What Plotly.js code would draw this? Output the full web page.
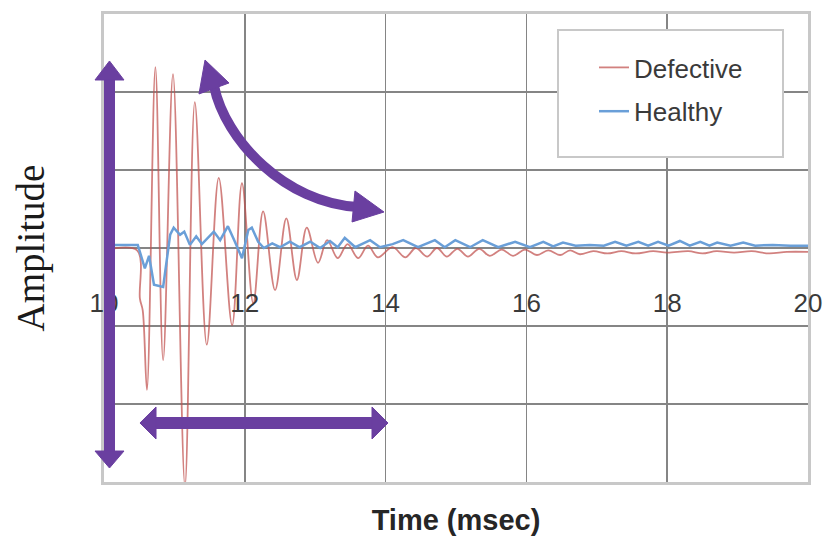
<!DOCTYPE html>
<html>
<head>
<meta charset="utf-8">
<script src="https://cdn.plot.ly/plotly-3.0.1.min.js"></script>
<style>html,body{margin:0;padding:0;background:#fff;}#chart{width:825px;height:537px;}</style>
</head>
<body>
<div id="chart"></div>
<script>
// ---- data ----
var seriesNames = ["Defective", "Healthy"];
var tickVals = [10, 12, 14, 16, 18, 20];
var tickText = ["10", "12", "14", "16", "18", "20"];

var defectiveTime = [10.00, 10.47, 10.51, 10.55, 10.61, 10.73, 10.84, 10.98, 11.15, 11.29, 11.46, 11.63, 11.82, 11.96,
  12.12, 12.26, 12.43, 12.59, 12.74, 12.88, 13.04, 13.17, 13.32, 13.46, 13.61, 13.75, 13.89, 14.10, 14.28, 14.43,
  14.59, 14.73, 14.87, 15.02, 15.17, 15.33, 15.48, 15.65, 15.81, 15.98, 16.15, 16.31, 16.48, 16.62, 16.76, 16.95,
  17.15, 17.35, 17.55, 17.80, 18.00, 18.30, 18.50, 18.70, 18.95, 19.20, 19.45, 19.70, 20.00];
var defectiveAmp = [-0.03, -0.03, -0.65, -0.80, -1.82, 2.32, -1.44, 2.23, -3.05, 1.87, -1.24, 0.90, -0.99, 0.83,
  -0.71, 0.47, -0.54, 0.38, -0.41, 0.26, -0.19, 0.10, -0.13, 0.05, -0.13, 0.03, -0.12, 0.01, -0.12, 0.00,
  -0.11, 0.00, -0.11, -0.01, -0.11, -0.01, -0.10, -0.02, -0.10, -0.02, -0.09, -0.03, -0.09, -0.03, -0.08, -0.04,
  -0.07, -0.04, -0.07, -0.04, -0.06, -0.04, -0.07, -0.04, -0.06, -0.04, -0.07, -0.05, -0.05];

var healthyTime = [10.00, 10.48, 10.58, 10.64, 10.71, 10.84, 10.94, 10.99, 11.08, 11.14, 11.22, 11.31, 11.39, 11.48,
  11.56, 11.65, 11.76, 11.85, 11.96, 12.05, 12.10, 12.19, 12.27, 12.39, 12.50, 12.64, 12.78, 12.93, 13.07, 13.21,
  13.32, 13.42, 13.57, 13.78, 13.92, 14.10, 14.25, 14.46, 14.70, 14.84, 14.99, 15.20, 15.38, 15.60, 15.84, 16.05,
  16.24, 16.38, 16.52, 16.70, 16.90, 17.10, 17.26, 17.42, 17.59, 17.73, 17.87, 18.02, 18.18, 18.32, 18.47, 18.60,
  18.71, 18.90, 19.08, 19.25, 19.50, 19.75, 20.00];
var healthyAmp = [0.04, 0.04, -0.26, -0.10, -0.47, -0.50, 0.17, 0.26, 0.17, 0.21, 0.04, 0.15, 0.05, 0.13,
  0.21, 0.10, 0.28, 0.10, -0.13, 0.23, 0.26, 0.08, 0.00, 0.06, 0.01, 0.08, 0.01, 0.08, 0.00, 0.09,
  0.01, 0.13, 0.01, 0.10, 0.01, 0.05, 0.10, 0.01, 0.10, 0.01, 0.10, 0.01, 0.10, 0.01, 0.08, 0.01,
  0.08, 0.02, 0.07, 0.03, 0.04, 0.03, 0.08, 0.03, 0.08, 0.03, 0.08, 0.03, 0.09, 0.03, 0.08, 0.03,
  0.07, 0.03, 0.07, 0.03, 0.04, 0.03, 0.03];

// ---- geometry helpers for overlay drawings (pixel -> paper) ----
var L = 104, R = 808, T = 14, B = 482;
function px(x) { return (x - L) / (R - L); }
function py(y) { return (B - y) / (B - T); }
function pt(x, y) { return px(x).toFixed(4) + "," + py(y).toFixed(4); }
var purple = "#6a3fa0";
function tri(a, b, c) {
  return { type: "path", xref: "paper", yref: "paper", layer: "above",
    path: "M" + pt(a[0], a[1]) + " L" + pt(b[0], b[1]) + " L" + pt(c[0], c[1]) + " Z",
    fillcolor: purple, line: { color: purple, width: 1 } };
}
function seg(x0, y0, x1, y1, w) {
  return { type: "line", xref: "paper", yref: "paper", layer: "above",
    x0: px(x0), y0: py(y0), x1: px(x1), y1: py(y1), line: { color: purple, width: w } };
}

var shapes = [
  // legend box
  { type: "rect", xref: "paper", yref: "paper", layer: "above",
    x0: px(558), y0: py(30), x1: px(783), y1: py(157),
    fillcolor: "#ffffff", line: { color: "#c8c8c8", width: 2 } },
  // vertical double arrow
  seg(109.5, 76, 109.5, 454, 11),
  tri([109.5, 61], [95, 80], [124, 80]),
  tri([109.5, 468], [95, 451], [124, 451]),
  // horizontal double arrow
  seg(152, 423, 376, 423, 12),
  tri([140, 423], [156, 407], [156, 439]),
  tri([388, 423], [372, 407], [372, 439]),
  // curved double arrow
  { type: "path", xref: "paper", yref: "paper", layer: "above",
    path: "M" + pt(214, 86) + " C" + pt(225, 140) + " " + pt(285, 203) + " " + pt(358, 207),
    line: { color: purple, width: 10 } },
  tri([205, 60], [229, 83], [199, 94]),
  tri([384, 212], [355, 191], [352, 222])
];

var traces = [
  { x: defectiveTime, y: defectiveAmp, name: seriesNames[0], type: "scatter", mode: "lines",
    legendgroup: "d", line: { color: "#c0504d", width: 1.8, shape: "spline", smoothing: 1 }, opacity: 0.72 },
  { x: healthyTime, y: healthyAmp, name: seriesNames[1], type: "scatter", mode: "lines",
    legendgroup: "h", line: { color: "#6a9fd8", width: 2.5 } },
  { x: [tickVals[0], tickVals[tickVals.length - 1]], y: [null, null], xaxis: "x2", yaxis: "y",
    type: "scatter", mode: "lines", showlegend: false, hoverinfo: "skip" }
];

var layout = {
  width: 825, height: 537,
  margin: { l: L, r: 825 - R, t: T, b: 537 - B },
  paper_bgcolor: "#ffffff", plot_bgcolor: "#ffffff",
  showlegend: true,
  legend: { x: px(594), y: py(44), xanchor: "left", yanchor: "top", bgcolor: "rgba(0,0,0,0)",
    borderwidth: 0, traceorder: "grouped", tracegroupgap: 7,
    font: { family: "Liberation Sans, Arial, sans-serif", size: 26, color: "#3a3a3a" } },
  xaxis: {
    range: [10, 20], tickvals: tickVals, showticklabels: false, ticks: "",
    showgrid: true, gridcolor: "#858585", gridwidth: 1.6, zeroline: false,
    showline: true, mirror: true, linecolor: "#c8c8c8", linewidth: 3,
    automargin: false,
    title: { text: "<b>Time (msec)</b>", standoff: 26,
      font: { family: "Liberation Sans, Arial, sans-serif", size: 29, color: "#262626" } }
  },
  xaxis2: {
    matches: "x", overlaying: "x", anchor: "free", position: 0.42, side: "bottom",
    range: [10, 20], tickvals: tickVals, ticktext: tickText, ticks: "",
    showgrid: false, zeroline: false, showline: false, automargin: false,
    tickfont: { family: "Liberation Sans, Arial, sans-serif", size: 26, color: "#3a3a3a" }
  },
  yaxis: {
    range: [-3, 3], dtick: 1, showticklabels: false, ticks: "",
    showgrid: true, gridcolor: "#858585", gridwidth: 1.6, zeroline: false,
    showline: true, mirror: true, linecolor: "#c8c8c8", linewidth: 3,
    automargin: false,
    title: { text: "Amplitude", standoff: 45,
      font: { family: "Liberation Serif, Times New Roman, serif", size: 39, color: "#1a1a1a" } }
  },
  shapes: shapes
};

Plotly.newPlot("chart", traces, layout, { displayModeBar: false, staticPlot: true });
</script>
</body>
</html>
